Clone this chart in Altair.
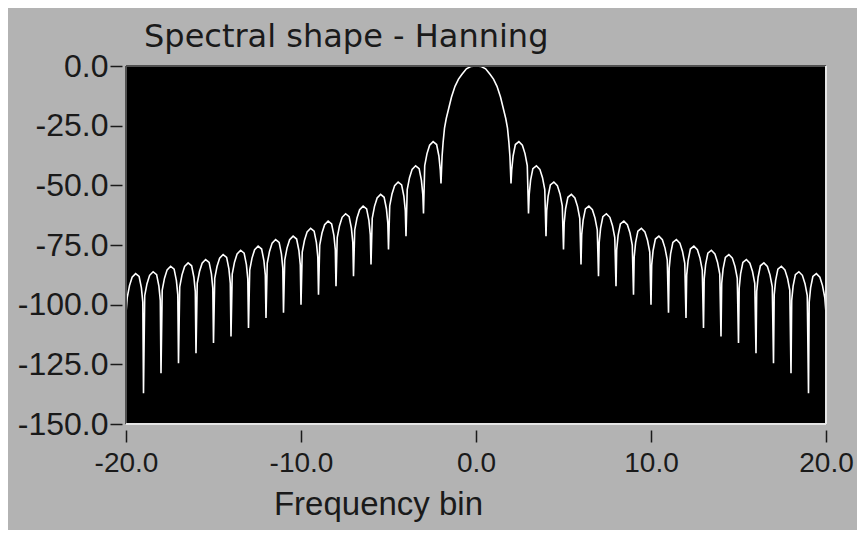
import altair as alt
import pandas as pd

# ---- data (positive side; the spectrum is symmetric) ----
main_bins = [0.0, 0.3, 0.55, 0.8, 1.0, 1.2, 1.4, 1.55, 1.7, 1.8, 1.88, 1.94]
main_db = [0.0, -0.2, -1.2, -3.5, -5.5, -8.5, -13.0, -17.5, -22.0, -26.0, -32.0, -38.0]

null_bins = [2, 3, 4, 5, 6, 7, 8, 9, 10, 11, 12, 13, 14, 15, 16, 17, 18, 19]
null_db = [-49.2, -61.8, -71.3, -76.9, -83.2, -88.1, -92.3, -95.8, -100.0,
           -103.4, -105.6, -109.8, -113.3, -116.1, -120.3, -124.5, -128.7, -137.1]

lobe_offsets = [0.04, 0.12, 0.25, 0.45, 0.65, 0.8, 0.93]
lobe_db = [
    [-43.7, -37.7, -32.9, -31.7, -33.2, -36.7, -41.7],   # 2..3
    [-53.8, -47.8, -43.0, -41.8, -43.3, -46.8, -51.8],   # 3..4
    [-60.6, -54.6, -49.8, -48.6, -50.1, -53.6, -58.6],   # 4..5
    [-65.8, -59.8, -55.0, -53.8, -55.3, -58.8, -63.8],   # 5..6
    [-70.7, -64.7, -59.9, -58.7, -60.2, -63.7, -68.7],   # 6..7
    [-73.9, -67.9, -63.1, -61.9, -63.4, -66.9, -71.9],   # 7..8
    [-77.0, -71.0, -66.2, -65.0, -66.5, -70.0, -75.0],   # 8..9
    [-80.0, -74.0, -69.2, -68.0, -69.5, -73.0, -78.0],   # 9..10
    [-83.3, -77.3, -72.5, -71.3, -72.8, -76.3, -81.3],   # 10..11
    [-84.7, -78.7, -73.9, -72.7, -74.2, -77.7, -82.7],   # 11..12
    [-87.5, -81.5, -76.7, -75.5, -77.0, -80.5, -85.5],   # 12..13
    [-89.2, -83.2, -78.4, -77.2, -78.7, -82.2, -87.2],   # 13..14
    [-91.0, -85.0, -80.2, -79.0, -80.5, -84.0, -89.0],   # 14..15
    [-93.1, -87.1, -82.3, -81.1, -82.6, -86.1, -91.1],   # 15..16
    [-94.5, -88.5, -83.7, -82.5, -84.0, -87.5, -92.5],   # 16..17
    [-95.9, -89.9, -85.1, -83.9, -85.4, -88.9, -93.9],   # 17..18
    [-98.2, -92.2, -87.4, -86.2, -87.7, -91.2, -96.2],   # 18..19
    [-99.0, -93.0, -88.2, -87.0, -88.5, -92.0, -97.0],   # 19..20
]
edge_bin = 20.0
edge_db = -103.5

y_ticks = [0, -25, -50, -75, -100, -125, -150]
x_ticks = [-20, -10, 0, 10, 20]
title_text = "Spectral shape - Hanning"
x_title = "Frequency bin"

# ---- build table ----
pos_x, pos_y = list(main_bins), list(main_db)
for k, nd, lob in zip(null_bins, null_db, lobe_db):
    pos_x.append(float(k)); pos_y.append(nd)
    for off, v in zip(lobe_offsets, lob):
        pos_x.append(k + off); pos_y.append(v)
pos_x.append(edge_bin); pos_y.append(edge_db)

rows = [(x, y) for x, y in zip(pos_x, pos_y)]
rows += [(-x, y) for x, y in zip(pos_x, pos_y) if x > 0]
df = pd.DataFrame(rows, columns=["bin", "db"]).sort_values("bin")

FONT = "Liberation Sans"
TXT = "#1a1a1a"
W, H = 700, 358
LABEL_EXPR = ("datum.value < 0 ? '-' + format(-datum.value, '.1f') "
              ": format(datum.value, '.1f')")

line = alt.Chart(df).mark_line(color="white", strokeWidth=1.6, clip=True).encode(
    x=alt.X("bin:Q", scale=alt.Scale(domain=[-20, 20], nice=False),
            axis=alt.Axis(values=x_ticks, labelExpr=LABEL_EXPR, title=x_title,
                          offset=6, tickSize=12, tickWidth=1.5, tickColor=TXT,
                          labelPadding=7, labelFontSize=28, labelFont=FONT,
                          labelColor=TXT, labelFlush=False, labelOverlap=False,
                          domain=False, grid=False,
                          titleFont=FONT, titleFontSize=33, titleFontWeight="normal",
                          titleColor=TXT, titleX=252, titleY=84,
                          titleAlign="center", titleBaseline="alphabetic")),
    y=alt.Y("db:Q", scale=alt.Scale(domain=[-150, 0], nice=False),
            axis=alt.Axis(values=y_ticks, labelExpr=LABEL_EXPR, title=None,
                          offset=4, tickSize=12, tickWidth=1.5, tickColor=TXT,
                          labelPadding=2, labelFontSize=32, labelFont=FONT,
                          labelColor=TXT, labelFlush=False, labelOverlap=False,
                          domain=False, grid=False)),
    order="bin:Q",
)

title = alt.Chart().mark_text(
    text=title_text, align="left", baseline="alphabetic",
    font="DejaVu Sans", fontSize=32, color=TXT,
).encode(x=alt.value(18), y=alt.value(-19))

frame_dark_top = alt.Chart().mark_rule(color="#505050", strokeWidth=2).encode(
    x=alt.value(0), x2=alt.value(W), y=alt.value(0))
frame_dark_left = alt.Chart().mark_rule(color="#505050", strokeWidth=2).encode(
    x=alt.value(0), y=alt.value(0), y2=alt.value(H))
frame_light_bottom = alt.Chart().mark_rule(color="#e6e6e6", strokeWidth=2).encode(
    x=alt.value(0), x2=alt.value(W), y=alt.value(H))
frame_light_right = alt.Chart().mark_rule(color="#e6e6e6", strokeWidth=2).encode(
    x=alt.value(W), y=alt.value(0), y2=alt.value(H))

chart = alt.layer(line, title, frame_dark_top, frame_dark_left,
                  frame_light_bottom, frame_light_right).properties(
    width=W, height=H,
    autosize=alt.AutoSizeParams(type="none"),
    padding={"left": 118, "top": 58, "right": 31, "bottom": 106},
    background="#b3b3b3",
).configure_view(fill="black", stroke=None)

chart.save("out.html", embed_options={"renderer": "svg", "actions": False})
